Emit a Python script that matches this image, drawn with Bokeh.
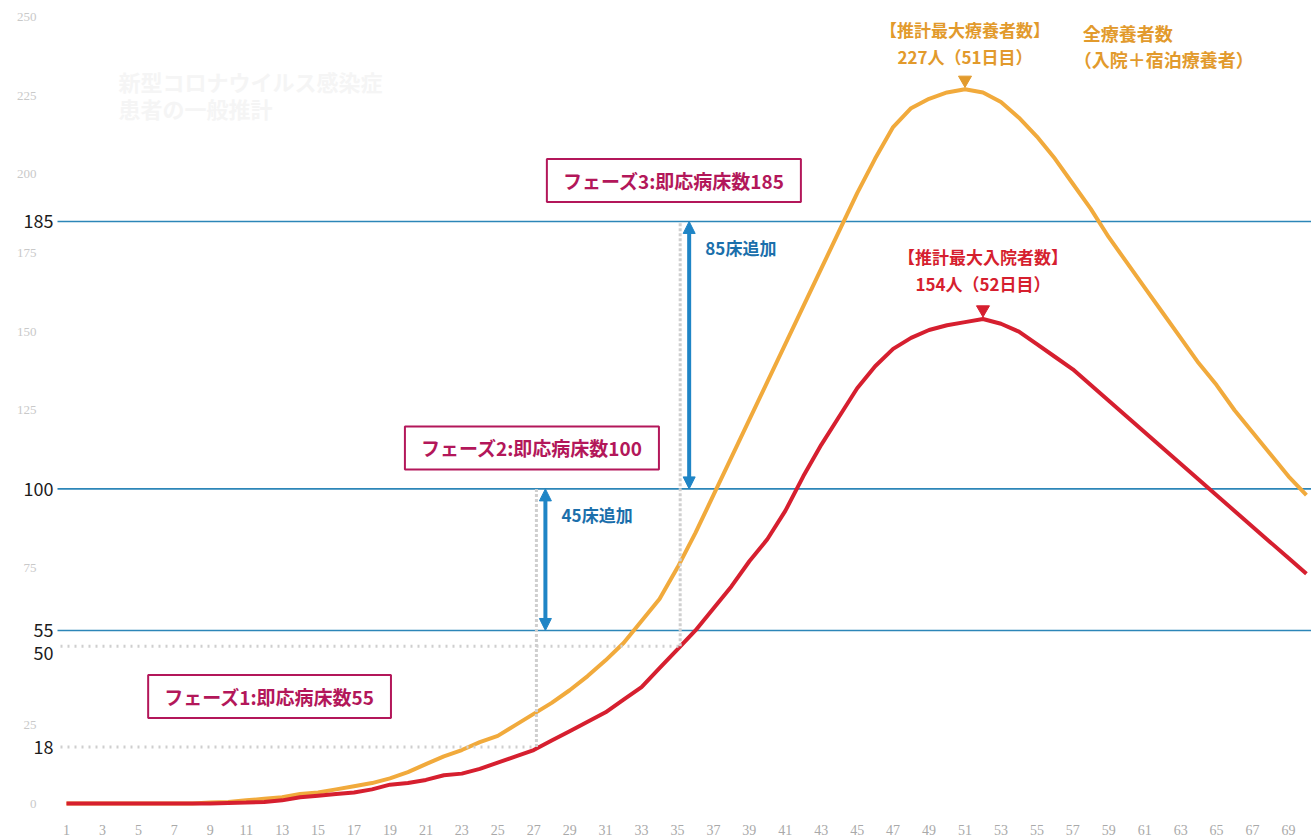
from bokeh.plotting import figure
from bokeh.models import (Label, Arrow, NormalHead, FixedTicker, Range1d, ColumnDataSource)
from bokeh.core.properties import value
from bokeh.embed import file_html
from bokeh.resources import INLINE

# ---- data -------------------------------------------------------------
days = list(range(1, 71))

# 全療養者数 (入院＋宿泊療養者)
total_care = [0, 0, 0, 0, 0, 0, 0, 0, 0.3, 0.5,
              1, 1.5, 2, 3, 3.5, 4.5, 5.5, 6.5, 8, 10,
              12.5, 15, 17, 19.5, 21.5, 25, 28.5, 32, 36, 40.5,
              45.5, 51, 58, 65, 75, 86, 98, 110, 122, 134,
              146, 158, 170, 182, 194, 205, 215, 221, 224, 226,
              227, 226, 223, 218, 212, 205, 197, 189, 180, 172,
              164, 156, 148, 140, 133, 125, 118, 111, 104, 98]

# 入院者数
inpatients = [0, 0, 0, 0, 0, 0, 0, 0, 0, 0.2,
              0.3, 0.5, 1, 2, 2.5, 3, 3.5, 4.5, 6, 6.5,
              7.5, 9, 9.5, 11, 13, 15, 17, 20, 23, 26,
              29, 33, 37, 43, 49, 55, 62, 69, 77, 84,
              93, 104, 114, 123, 132, 139, 144.5, 148, 150.5, 152,
              153, 154, 152.5, 150, 146, 142, 138, 133, 128, 123,
              118, 113, 108, 103, 98, 93, 88, 83, 78, 73]

bed_levels = [55, 100, 185]          # 即応病床数 (フェーズ1〜3)
guide_days = [27, 35]                # 病床追加の判断日
guide_levels = [18, 50]              # その時点の入院者数の目安
bold_ticks = [185, 100, 55, 50, 18]
bold_tick_shift = [0, 0, 0, 7, 0]    # keeps 50 clear of 55 (px, downwards)
faint_ticks = [v for v in range(0, 251, 25) if v not in bold_ticks]
x_ticks = list(range(1, 70, 2))

phase_names = ["フェーズ1", "フェーズ2", "フェーズ3"]
phase_box_x = [12.3, 26.9, 34.8]
phase_box_y = [34, 113, 198]

# ---- colours / fonts --------------------------------------------------
ORANGE = "#f1aa3c"
ORANGE_TXT = "#e29a2c"
RED = "#d61f2f"
BLUE = "#2c86b8"
ARROW_BLUE = "#1f85c6"
BLUE_TXT = "#1b6fab"
MAGENTA = "#b3175a"
GUIDE = "#cfcfcf"
JP = "Noto Sans CJK JP"

# pixel geometry: the frame covers the full width, day 1 sits 66 px in
px_per_day = 17.97
px_per_unit = 3.15
frame_bottom = 25
x0 = 1 - 66 / px_per_day
x1 = x0 + 1311 / px_per_day
y1 = 804 / px_per_unit
y0 = y1 - (837 - frame_bottom) / px_per_unit

def px_to_day(px):
    return x0 + px / px_per_day

line_start = px_to_day(57)          # left end of the level lines
faint_label_x = px_to_day(36)
bold_label_x = px_to_day(53)

p = figure(width=1311, height=837, x_range=Range1d(x0, x1), y_range=Range1d(y0, y1),
           output_backend="svg", toolbar_location=None, y_axis_location=None,
           min_border_left=0, min_border_right=0, min_border_top=0,
           min_border_bottom=frame_bottom)
p.outline_line_color = None
p.grid.visible = False
p.background_fill_color = "white"
p.border_fill_color = "white"

# x axis
p.xaxis.ticker = FixedTicker(ticks=x_ticks)
p.xaxis.axis_line_color = None
p.xaxis.major_tick_line_color = None
p.xaxis.minor_tick_line_color = None
p.xaxis.major_label_text_font = "Liberation Sans Narrow"
p.xaxis.major_label_text_color = "#a9a9a9"
p.xaxis.major_label_text_font_size = "14px"
p.xaxis.major_label_standoff = 7

# y tick labels: faint scale and emphasised levels
p.text(x=[faint_label_x] * len(faint_ticks), y=faint_ticks,
       text=[str(v) for v in faint_ticks], text_align="right", text_baseline="middle",
       text_font=value("Liberation Sans Narrow"), text_font_size="13px",
       text_color="#c9c9c9")
bold_src = ColumnDataSource(dict(x=[bold_label_x] * len(bold_ticks), y=bold_ticks,
                                 text=[str(v) for v in bold_ticks], dy=bold_tick_shift))
p.text(x="x", y="y", text="text", y_offset="dy", source=bold_src,
       text_align="right", text_baseline="middle", text_font=value(JP),
       text_font_size="18px", text_color="#1c1c1c")

# faint heading in the background
for i, t in enumerate(["新型コロナウイルス感染症", "患者の一般推計"]):
    p.add_layout(Label(x=3.9, y=229.8 - 8.8 * i, text=t, text_font=JP, text_font_size="22px",
                       text_font_style="bold", text_color="#f5f5f5", text_baseline="middle"))

# bed capacity lines
p.segment(x0=[line_start] * len(bed_levels), y0=bed_levels,
          x1=[x1] * len(bed_levels), y1=bed_levels, line_color=BLUE, line_width=1.6)

# curves
p.line(days, total_care, line_color=ORANGE, line_width=4)
p.line(days, inpatients, line_color=RED, line_width=4)

# dotted guides: level reached on the decision day, then up to the next phase
gx = [d + 0.15 for d in guide_days]
p.segment(x0=[px_to_day(60)] * 2, y0=guide_levels, x1=gx, y1=guide_levels,
          line_color=GUIDE, line_width=3, line_dash="2 5")
p.segment(x0=gx, y0=guide_levels, x1=gx, y1=bed_levels[1:],
          line_color=GUIDE, line_width=3, line_dash="3 2")

# bed-addition arrows
for i, d in enumerate(guide_days):
    lo, hi = bed_levels[i], bed_levels[i + 1]
    ax_x = d + 0.65
    p.add_layout(Arrow(x_start=ax_x, y_start=lo, x_end=ax_x, y_end=hi,
                       line_color=ARROW_BLUE, line_width=4,
                       start=NormalHead(size=12, fill_color=ARROW_BLUE, line_color=ARROW_BLUE),
                       end=NormalHead(size=12, fill_color=ARROW_BLUE, line_color=ARROW_BLUE)))
    p.add_layout(Label(x=ax_x + 0.9, y=hi, y_offset=-26, text=f"{hi - lo}床追加",
                       text_font=JP, text_font_size="17px", text_font_style="bold",
                       text_color=BLUE_TXT, text_baseline="middle"))

# phase boxes
for name, b, bx, by in zip(phase_names, bed_levels, phase_box_x, phase_box_y):
    p.add_layout(Label(x=bx, y=by, text=f"{name}:即応病床数{b}", text_font=JP,
                       text_font_size="19px", text_font_style="bold", text_color=MAGENTA,
                       text_align="center", text_baseline="middle",
                       border_line_color=MAGENTA, border_line_width=2,
                       background_fill_color="white",
                       padding=dict(left=16, right=16, top=8, bottom=8)))

# peak markers
def mark_peak(series, color, title, up):
    peak = max(series)
    day = days[series.index(peak)]
    p.scatter([day], [peak + 3], marker="inverted_triangle", size=13,
              fill_color=color, line_color=color)
    p.add_layout(Label(x=day, y=peak, y_offset=up + 27, text=title, text_font=JP,
                       text_font_size="17px", text_font_style="bold", text_color=color,
                       text_align="center", text_baseline="middle"))
    p.add_layout(Label(x=day, y=peak, y_offset=up, text=f"{peak}人（{day}日目）",
                       text_font=JP, text_font_size="17px", text_font_style="bold",
                       text_color=color, text_align="center", text_baseline="middle"))

mark_peak(total_care, ORANGE_TXT, "【推計最大療養者数】", 33)
mark_peak(inpatients, RED, "【推計最大入院者数】", 36)

# series caption
for i, t in enumerate(["全療養者数", "（入院＋宿泊療養者）"]):
    p.add_layout(Label(x=57.55, y=244.8 - 8 * i, x_offset=-9 * i, text=t, text_font=JP,
                       text_font_size="18px", text_font_style="bold",
                       text_color=ORANGE_TXT, text_baseline="middle"))

open("out.html", "w").write(file_html(p, INLINE))
